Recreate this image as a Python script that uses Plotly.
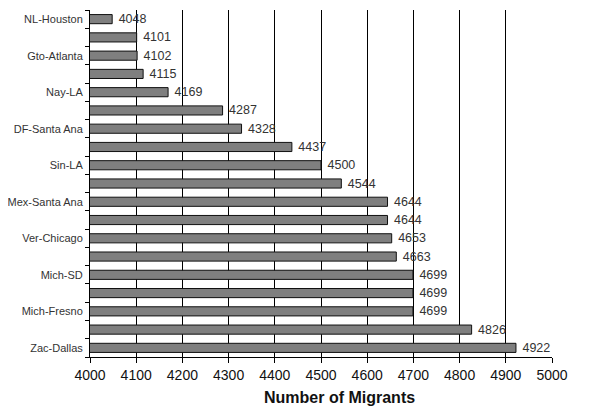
import plotly.graph_objects as go

labels = ["NL-Houston", "", "Gto-Atlanta", "", "Nay-LA", "", "DF-Santa Ana", "",
          "Sin-LA", "", "Mex-Santa Ana", "", "Ver-Chicago", "", "Mich-SD", "",
          "Mich-Fresno", "", "Zac-Dallas"]
migrants = [4048, 4101, 4102, 4115, 4169, 4287, 4328, 4437, 4500, 4544,
            4644, 4644, 4653, 4663, 4699, 4699, 4699, 4826, 4922]
xticks = [4000, 4100, 4200, 4300, 4400, 4500, 4600, 4700, 4800, 4900, 5000]

pos = list(range(len(migrants)))

fig = go.Figure()
fig.add_trace(go.Bar(
    x=migrants, y=pos, orientation="h",
    marker=dict(color="#7f7f7f", line=dict(color="#111111", width=1)),
    text=[str(v) for v in migrants], textposition="outside",
    texttemplate=" %{text}",
    textfont=dict(size=12.5, color="#333333"),
    constraintext="none",
    cliponaxis=False,
))

# page body has an 8px margin, so figure is shrunk and shifted to compensate
fig.update_layout(
    width=599, height=404,
    margin=dict(l=82, r=55, t=2, b=55),
    paper_bgcolor="white", plot_bgcolor="white",
    font=dict(family="Liberation Sans, Arial, sans-serif", color="#222222"),
    bargap=0.5,
    showlegend=False,
)
fig.add_annotation(
    text="<b>Number of Migrants</b>", xref="paper", yref="paper",
    x=0.539, y=-0.118, xanchor="center", yanchor="middle",
    showarrow=False, font=dict(size=16, color="#111111"),
)
fig.update_xaxes(
    range=[4000, 5000], tickvals=xticks,
    showgrid=True, gridcolor="#000000", gridwidth=1,
    showline=True, linecolor="#000000",
    ticks="outside", ticklen=5, tickcolor="#000000",
    tickfont=dict(size=14, color="#111111"),
    zeroline=False, automargin=False,
)
fig.update_yaxes(
    range=[len(migrants) - 0.5, -0.5],
    tickvals=[i for i, l in zip(pos, labels) if l],
    ticktext=[l for l in labels if l],
    ticks="", showgrid=False,
    showline=True, linecolor="#000000",
    tickfont=dict(size=11, color="#333333"),
    ticklabelstandoff=4,
    minor=dict(tickvals=[i - 0.5 for i in range(len(migrants) + 1)],
               ticks="outside", ticklen=4, tickcolor="#000000", showgrid=False),
    zeroline=False, automargin=False,
)

fig.write_html("out.html")
